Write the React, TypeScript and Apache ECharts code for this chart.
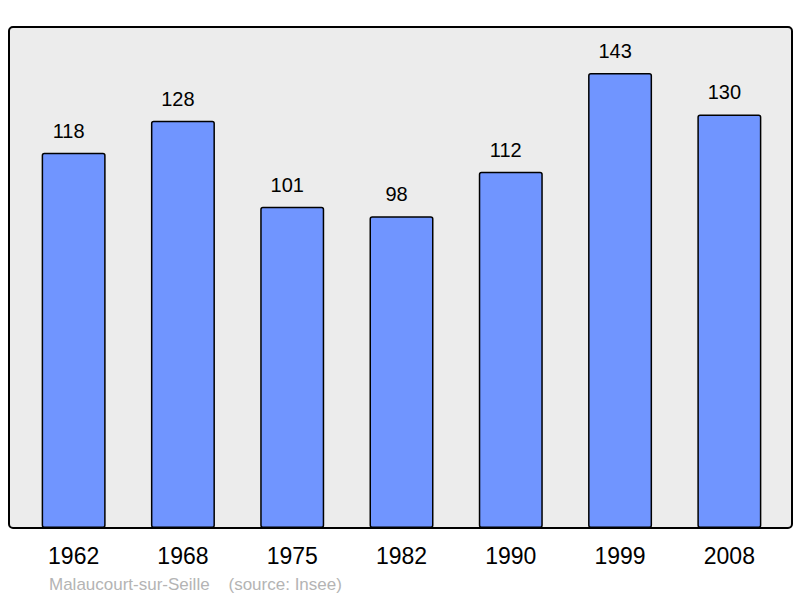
import React, { useEffect, useRef } from "react";
import * as echarts from "echarts";

const years = ["1962", "1968", "1975", "1982", "1990", "1999", "2008"];
const population = [118, 128, 101, 98, 112, 143, 130];
const commune = "Malaucourt-sur-Seille";
const source = "(source: Insee)";

export default function App() {
  const ref = useRef<HTMLDivElement>(null);
  useEffect(() => {
    document.body.style.margin = "0";
    const chart = echarts.init(ref.current!, null, { renderer: "svg" });
    chart.setOption({
      animation: false,
      textStyle: { fontFamily: "Liberation Sans, Arial, sans-serif" },
      graphic: [
        {
          type: "rect",
          z: -10,
          shape: { x: 9, y: 27, width: 783, height: 501, r: 4 },
          style: { fill: "#ececec", stroke: "#000", lineWidth: 2 },
        },
        {
          type: "text",
          x: 49,
          y: 584,
          style: {
            text: commune + "    " + source,
            fill: "#b4b4b4",
            font: "17px 'Liberation Sans', Arial, sans-serif",
            textVerticalAlign: "middle",
          },
        },
      ],
      grid: { left: 19, right: 16, top: 27, bottom: 70 },
      xAxis: {
        type: "category",
        data: years,
        axisLine: { show: false },
        axisTick: { show: false },
        axisLabel: {
          fontSize: 23,
          color: "#000",
          margin: 16,
          fontFamily: "Liberation Sans, Arial, sans-serif",
        },
      },
      yAxis: {
        type: "value",
        min: 0,
        max: 157.5,
        show: false,
        splitLine: { show: false },
      },
      series: [
        {
          type: "bar",
          data: population,
          barWidth: 64,
          itemStyle: {
            color: "#7095ff",
            borderColor: "#000",
            borderWidth: 1.5,
            borderRadius: 2,
          },
          label: {
            show: true,
            position: "top",
            distance: 12,
            offset: [-5, 0],
            fontSize: 20,
            color: "#000",
            fontFamily: "Liberation Sans, Arial, sans-serif",
          },
        },
      ],
    });
    return () => chart.dispose();
  }, []);
  return <div ref={ref} style={{ width: 800, height: 598 }} />;
}
